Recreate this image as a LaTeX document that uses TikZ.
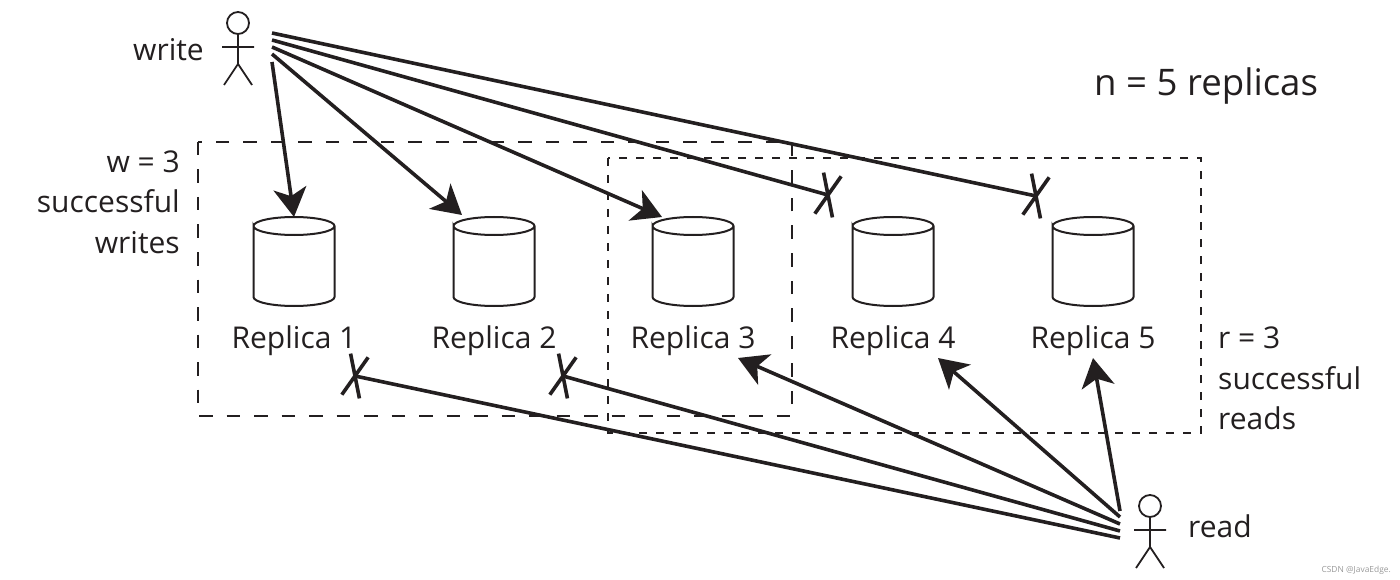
\documentclass[tikz,border=0pt]{standalone}
\usepackage{fontspec}
\setmainfont{Open Sans}
\usetikzlibrary{arrows.meta,shapes.misc}
\definecolor{ink}{HTML}{231F20}
\tikzset{
  caption/.style={font=\fontsize{30}{41}\selectfont, text=ink, inner sep=0pt},
  wire/.style={ink, line width=3.6},
  hit/.style={wire, -{Stealth[length=29pt, width=33pt, inset=8pt]}},
  lost/.style={draw=ink, line width=3.6, cross out, rotate=-12, minimum width=18, minimum height=42,
    inner sep=0pt, outer sep=0pt},
  drum/.pic={
    \draw [ink, line width=2] (-40.5,-35.5) arc (180:-180:40.5pt and 9pt) -- (-40.5,35.5)
      arc (180:360:40.5pt and 9pt) -- (40.5,-35.5);
    \coordinate (-top) at (0,-44.5);
  },
  actor/.pic={
    \draw [ink, line width=1.8] (0,0) circle (11);
    \draw [ink, line width=1.8] (0,11) -- (0,42) (-16,24) -- (16,24) (-14,62) -- (0,41) -- (14,62);
  }
}
\begin{document}
\begin{tikzpicture}[x=1pt,y=-1pt]
\useasboundingbox (0,0) rectangle (1400,580);

% quorums
\draw [ink, line width=1.6, dash pattern=on 13.5pt off 14pt] (198,142) rectangle (792,416);
\draw [ink, line width=1.2, dash pattern=on 8pt off 9pt] (608,158) rectangle (1201,433);

% replicas
\foreach \i/\x in {1/294,2/494,3/693,4/893,5/1093} {
  \pic (db\i) at (\x,261.5) {drum};
  \node [caption, anchor=base] (name\i) at (\x,348) {Replica \i};
}

% clients
\pic at (238,23) {actor};
\pic at (1150,506) {actor};
\node [caption, anchor=base east] (writer) at (204,61) {write};
\node [caption, anchor=base west] (reader) at (1188,537) {read};

% captions
\node [caption, anchor=base west, font=\fontsize{36.6}{41}\selectfont] (title) at (1094,96) {n = 5 replicas};
\node [caption, anchor=base east] (wa) at (180,173) {w = 3};
\node [caption, anchor=base east] (wb) at (180,213) {successful};
\node [caption, anchor=base east] (wc) at (180,254) {writes};
\node [caption, anchor=base west] (ra) at (1218,348) {r = 3};
\node [caption, anchor=base west] (rb) at (1218,389) {successful};
\node [caption, anchor=base west] (rc) at (1218,429) {reads};
\node [font=\fontsize{8.4}{10}\selectfont, text=black!40, anchor=base east, inner sep=0pt] (mark) at (1391,572) {CSDN @JavaEdge.};

% failed requests
\node [lost] (x1) at (355,376) {};
\node [lost] (x2) at (563,376) {};
\node [lost] (x4) at (828,195) {};
\node [lost] (x5) at (1036,196) {};

% write fan
\coordinate (w1) at (272,62);
\coordinate (w2) at (272,54);
\coordinate (w3) at (272,47);
\coordinate (w4) at (272,40);
\coordinate (w5) at (272,33);
\coordinate (t2) at (462,215);
\coordinate (t3) at (662,217);
\draw [hit] (w1) -- (db1-top);
\draw [hit] (w2) -- (t2);
\draw [hit] (w3) -- (t3);
\draw [wire] (w4) -- (x4.center);
\draw [wire] (w5) -- (x5.center);

% read fan
\coordinate (r1) at (1120,538);
\coordinate (r2) at (1120,531);
\coordinate (r3) at (1120,524);
\coordinate (r4) at (1120,517);
\coordinate (r5) at (1120,511);
\coordinate (s3) at (738,358);
\coordinate (s4) at (938,358);
\coordinate (s5) at (1093,358);
\draw [wire] (r1) -- (x1.center);
\draw [wire] (r2) -- (x2.center);
\draw [hit] (r3) -- (s3);
\draw [hit] (r4) -- (s4);
\draw [hit] (r5) -- (s5);

\end{tikzpicture}
\end{document}
